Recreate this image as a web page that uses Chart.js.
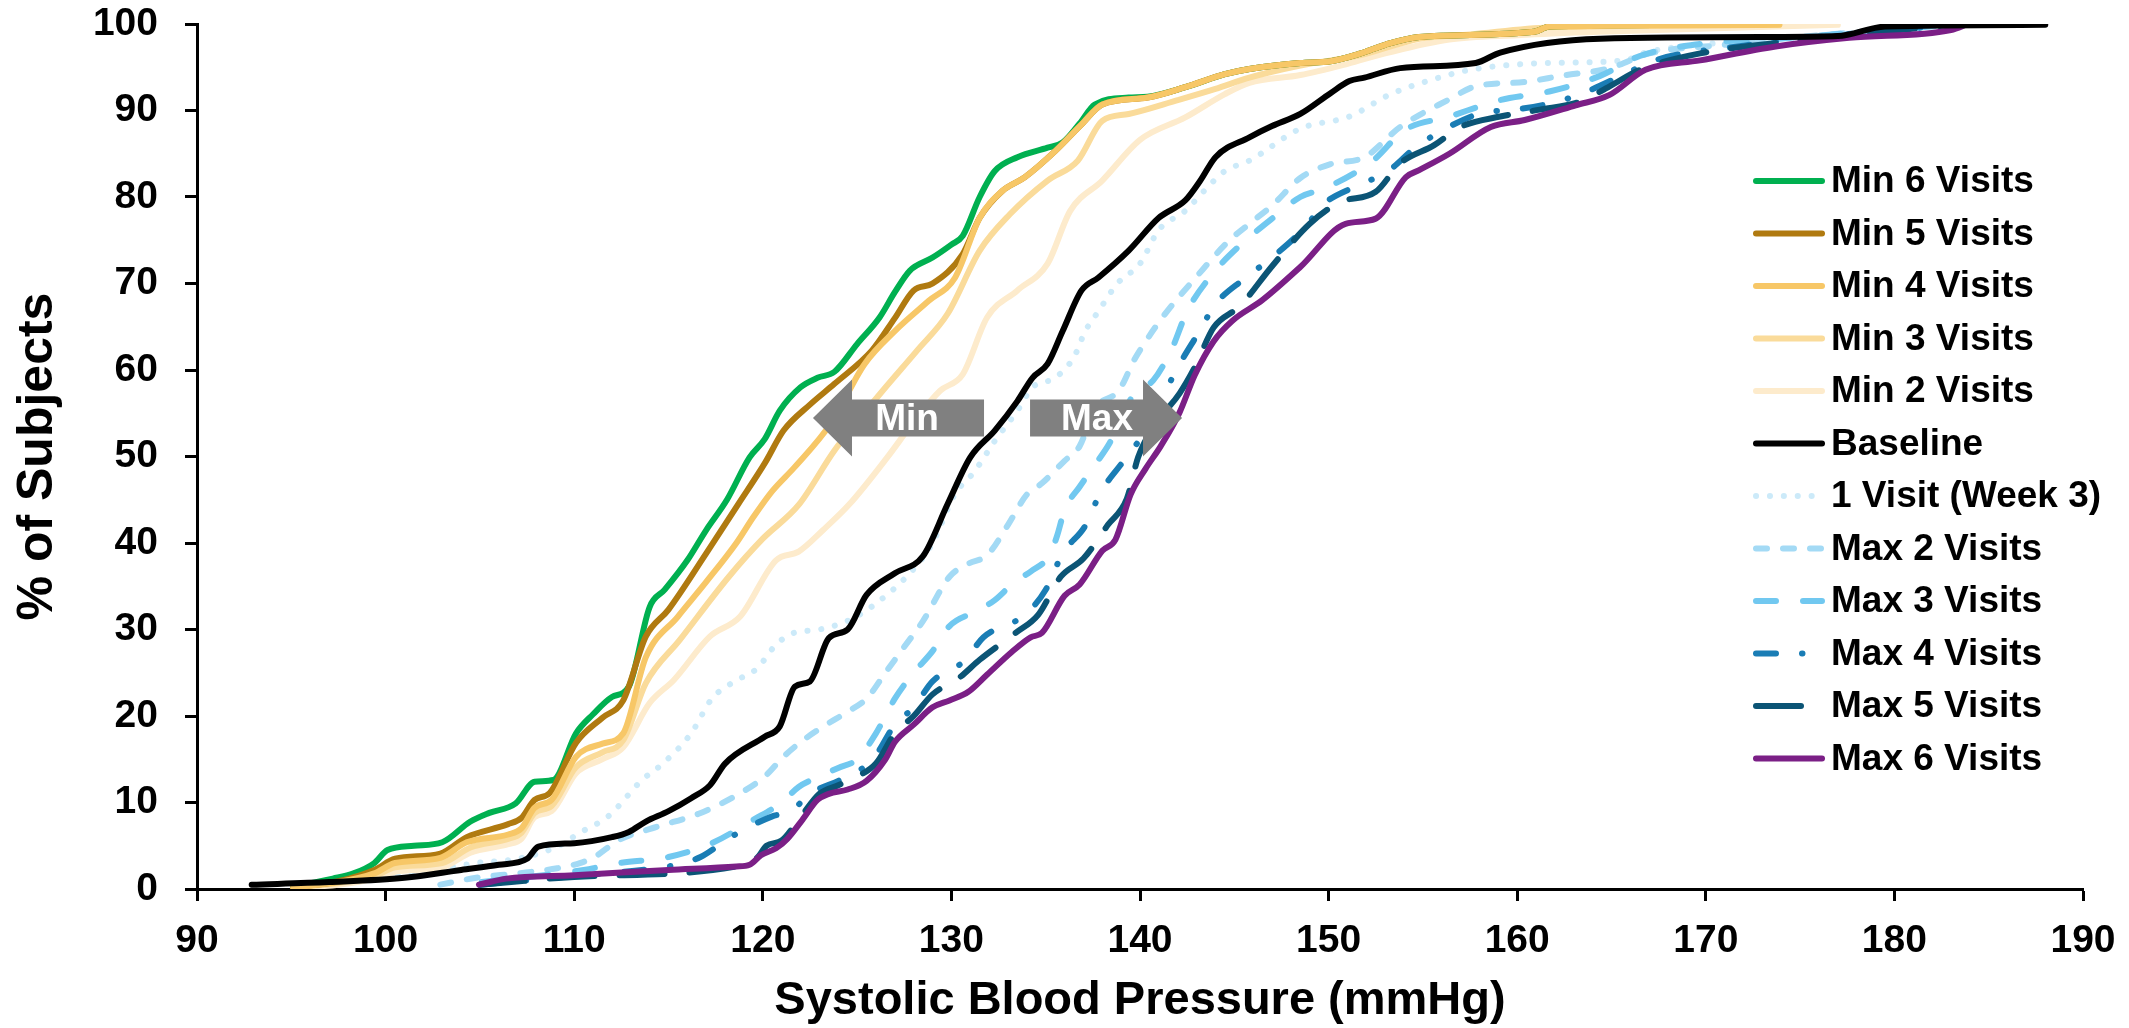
<!DOCTYPE html>
<html>
<head>
<meta charset="utf-8">
<script src="https://cdn.jsdelivr.net/npm/chart.js@4.4.1/dist/chart.umd.min.js"></script>
<style>
  html, body { margin: 0; padding: 0; background: #fff; }
</style>
</head>
<body>
<canvas id="mainCanvas" width="2129" height="1028"></canvas>
<script>
// x = systolic BP (mmHg), y = cumulative % of subjects
var min6 = [[95.1,0.3],[97.2,1.2],[98.3,1.8],[99.4,3.0],[100.1,4.5],[101.5,5.0],[103.0,5.4],[104.5,7.8],[105.5,8.8],[106.9,9.9],[107.9,12.4],[108.9,12.6],[110.1,18.0],[111.0,20.2],[112.0,22.2],[112.9,23.4],[114.0,32.6],[114.8,34.6],[116.0,38.0],[117.0,41.5],[118.1,45.0],[119.3,49.9],[120.1,52.0],[120.9,55.3],[122.0,58.0],[122.9,59.1],[123.8,59.8],[125.0,63.0],[126.2,66.1],[127.0,69.0],[127.8,71.5],[129.0,73.0],[130.0,74.5],[130.6,75.5],[131.5,80.0],[132.3,83.0],[133.5,84.6],[135.1,85.7],[135.9,86.3],[136.8,88.5],[137.6,90.7],[139.4,91.5],[140.4,91.6],[142.4,92.7],[144.5,94.2],[145.8,94.8],[148.5,95.5],[150.1,95.7],[151.7,96.6],[153.0,97.6],[154.8,98.5],[160.9,99.1],[161.7,99.7],[168.0,99.9]];
var min5 = [[95.1,0.2],[97.5,0.9],[99.4,2.2],[100.5,3.5],[102.9,4.1],[104.3,6.0],[106.5,7.5],[107.2,8.2],[107.9,10.3],[108.7,11.1],[110.1,16.9],[111.5,19.8],[112.6,21.8],[113.8,29.2],[115.0,32.3],[117.0,38.8],[118.7,44.5],[120.1,49.2],[121.1,53.0],[122.5,56.0],[123.8,58.4],[125.8,62.3],[127.0,66.0],[128.0,69.2],[129.0,70.0],[130.6,73.4],[131.5,77.6],[132.7,80.7],[133.9,82.3],[135.5,85.3],[136.9,88.4],[138.0,90.7],[140.4,91.5],[142.4,92.7],[144.5,94.2],[145.8,94.8],[148.5,95.5],[150.1,95.7],[151.7,96.6],[153.0,97.6],[154.8,98.5],[160.9,99.1],[161.7,99.7],[168.0,99.9]];
var min4 = [[95.1,0.2],[97.5,0.8],[99.4,1.8],[100.5,3.0],[102.9,3.6],[104.3,5.4],[106.5,6.3],[107.2,7.0],[107.9,9.4],[108.8,10.3],[110.1,15.3],[111.5,16.8],[112.6,18.0],[113.8,26.8],[115.5,31.5],[117.0,35.5],[118.6,40.0],[119.5,43.0],[120.5,46.0],[121.7,48.8],[123.6,53.8],[125.4,60.7],[127.0,64.5],[128.8,68.0],[130.2,70.7],[131.5,77.6],[132.7,80.7],[133.9,82.3],[135.5,85.3],[136.9,88.4],[138.0,90.7],[140.4,91.5],[142.4,92.7],[144.5,94.2],[145.8,94.8],[148.5,95.5],[150.1,95.7],[151.7,96.6],[153.0,97.6],[154.8,98.5],[160.9,99.1],[161.7,99.7],[173.9,99.9]];
var min3 = [[95.1,0.2],[97.5,0.7],[99.4,1.5],[100.5,2.5],[103.0,3.0],[104.5,4.8],[106.5,5.8],[107.2,6.5],[107.9,8.8],[108.8,9.6],[110.1,14.1],[111.5,15.8],[112.6,17.2],[113.8,23.8],[115.6,28.8],[118.2,36.1],[120.0,40.5],[121.9,44.4],[123.8,50.7],[126.2,57.2],[128.2,62.3],[129.8,66.5],[131.5,73.8],[133.1,78.0],[135.1,81.9],[136.7,84.2],[138.0,88.8],[139.4,89.6],[142.0,91.2],[144.0,92.5],[145.8,93.8],[148.5,95.2],[151.7,96.4],[154.8,98.3],[157.5,98.8],[161.7,99.6],[173.9,99.9]];
var min2 = [[95.1,0.1],[97.5,0.5],[99.4,1.2],[100.5,2.0],[103.0,2.5],[104.5,4.2],[106.5,5.2],[107.2,5.8],[107.9,8.3],[108.8,9.0],[110.1,13.4],[111.5,15.0],[112.6,16.4],[114.0,21.5],[115.3,24.2],[117.2,29.2],[118.8,31.5],[120.7,38.0],[121.9,39.0],[123.2,41.5],[124.6,44.5],[126.6,49.9],[128.0,54.0],[129.4,57.6],[130.6,59.5],[131.9,66.1],[133.5,69.2],[135.1,72.3],[136.3,78.4],[138.0,81.9],[140.0,86.6],[142.4,89.2],[144.5,91.9],[145.8,93.2],[148.5,94.1],[151.0,95.4],[153.0,96.6],[156.4,98.2],[160.0,98.7],[164.3,99.1],[177.0,99.9]];
var baseline = [[92.9,0.5],[97.0,0.8],[101.0,1.3],[104.0,2.2],[106.0,2.8],[107.5,3.5],[108.1,4.9],[110.0,5.3],[112.0,6.0],[112.9,6.6],[113.8,7.8],[115.0,9.0],[116.2,10.5],[117.2,12.0],[118.0,14.5],[120.1,17.6],[120.9,18.8],[121.7,23.4],[122.5,24.0],[123.5,29.0],[124.5,30.0],[125.5,34.0],[127.0,36.5],[128.5,38.5],[129.8,44.5],[131.0,49.9],[132.3,53.0],[133.5,56.4],[134.3,59.1],[135.1,60.7],[135.9,64.5],[136.9,69.2],[137.8,70.7],[139.4,73.8],[141.0,77.6],[142.4,79.6],[143.2,81.9],[144.0,84.6],[145.8,86.9],[147.0,88.2],[148.5,89.6],[150.1,92.0],[151.1,93.4],[151.9,93.8],[153.8,94.9],[157.8,95.5],[159.1,96.7],[164.4,98.3],[173.9,98.5],[177.0,98.6],[179.5,99.7],[188.0,99.9]];
var visit1 = [[97.0,0.5],[99.1,1.0],[102.1,2.0],[104.8,3.0],[107.0,3.5],[109.1,4.9],[110.3,6.5],[111.8,8.4],[113.6,12.6],[114.7,14.5],[116.2,18.0],[117.3,22.0],[118.5,24.0],[119.7,25.5],[120.6,28.0],[121.5,29.5],[123.0,30.0],[124.5,31.0],[126.0,33.0],[128.0,37.0],[129.0,40.0],[130.2,45.7],[131.2,48.2],[132.3,51.8],[133.5,55.3],[134.3,58.0],[135.5,59.1],[136.5,61.5],[137.1,64.5],[137.8,66.8],[138.8,70.0],[140.0,72.3],[141.0,76.2],[142.4,78.4],[143.4,80.7],[144.5,83.0],[145.8,84.2],[148.5,87.9],[151.1,89.3],[153.3,91.9],[155.4,93.5],[157.5,94.7],[161.7,95.5],[165.7,95.8],[166.8,96.7],[169.7,97.6],[175.0,98.5],[183.0,99.9]];
var max2 = [[102.9,0.5],[104.8,1.3],[107.0,1.8],[109.1,2.4],[110.3,3.0],[111.0,3.6],[112.4,5.7],[114.4,7.2],[116.6,8.7],[118.5,10.7],[120.1,13.0],[121.1,15.3],[121.9,16.8],[123.0,18.5],[124.5,20.5],[125.5,22.0],[126.5,25.0],[127.5,28.0],[128.5,31.0],[129.9,36.1],[130.9,37.6],[131.9,38.6],[133.0,42.1],[134.0,45.6],[134.8,46.9],[136.0,49.5],[136.8,51.2],[137.6,55.5],[138.9,57.7],[139.7,61.2],[140.3,63.3],[141.3,66.4],[143.0,70.8],[144.7,74.9],[145.8,76.9],[147.0,79.0],[148.5,82.2],[150.1,83.8],[151.9,84.6],[153.8,88.1],[156.4,91.3],[157.8,92.8],[160.4,93.3],[162.3,94.0],[164.9,94.9],[167.0,96.6],[171.0,97.6],[175.0,98.5],[183.0,99.9]];
var max3 = [[105.1,0.8],[108.0,1.5],[110.5,2.2],[112.4,3.0],[115.0,3.7],[117.3,5.3],[119.5,8.0],[121.0,10.0],[121.9,11.8],[123.0,13.0],[124.0,14.0],[125.0,15.0],[126.0,18.0],[127.0,22.0],[128.0,25.0],[129.0,27.5],[129.9,30.4],[131.3,32.1],[132.3,33.4],[133.4,35.6],[134.2,36.7],[135.2,38.6],[135.6,40.8],[136.0,43.8],[136.8,46.5],[137.6,49.0],[138.4,51.6],[139.7,57.3],[140.7,58.8],[141.7,62.5],[142.5,66.8],[144.0,71.5],[145.2,74.2],[147.0,77.5],[148.5,80.0],[149.8,81.0],[152.4,84.3],[154.0,87.7],[156.4,89.3],[159.1,91.2],[161.7,92.2],[164.4,94.0],[166.5,96.3],[169.7,97.7],[175.0,98.5],[183.0,99.9]];
var max4 = [[105.0,0.5],[110.0,1.5],[114.0,2.3],[115.4,2.8],[116.7,3.7],[118.3,6.0],[120.5,8.4],[121.5,9.0],[122.5,11.0],[124.0,12.5],[125.0,13.5],[126.0,15.5],[127.0,19.0],[128.0,21.0],[129.0,24.0],[130.7,26.4],[131.7,29.1],[133.9,31.7],[135.0,34.6],[135.9,38.8],[137.1,42.0],[137.9,45.8],[139.1,49.4],[140.3,53.0],[141.3,57.3],[142.0,60.3],[143.1,64.3],[144.0,67.6],[145.5,70.5],[147.0,73.0],[148.8,76.6],[149.7,79.1],[151.4,81.2],[153.1,82.9],[154.6,85.7],[156.2,87.9],[158.1,89.7],[159.9,90.1],[162.1,91.0],[163.7,92.2],[165.7,94.2],[167.3,95.8],[172.0,97.5],[176.0,98.5],[183.0,99.9]];
var max5 = [[105.0,0.5],[110.0,1.4],[118.6,2.6],[119.7,3.6],[120.2,5.0],[121.0,5.6],[122.0,8.3],[123.0,11.0],[124.0,12.0],[125.0,13.0],[126.0,14.5],[127.0,18.0],[128.0,20.0],[129.0,22.5],[130.4,24.4],[131.5,26.5],[133.4,29.6],[134.6,31.7],[135.8,36.1],[137.0,38.2],[138.3,42.1],[139.3,45.1],[139.9,49.9],[140.7,53.4],[142.1,57.3],[142.9,60.3],[143.9,64.9],[145.3,67.4],[147.0,72.0],[149.0,76.9],[150.6,79.4],[152.5,80.6],[153.8,83.9],[155.6,86.0],[157.0,88.1],[159.1,89.3],[161.2,90.1],[163.3,91.0],[164.9,92.8],[166.5,94.7],[169.7,96.6],[175.0,98.1],[183.0,99.9]];
var max6 = [[104.95,0.5],[106.4,1.2],[110.0,1.6],[115.0,2.2],[118.6,2.6],[119.3,2.8],[119.9,3.9],[120.7,4.7],[121.3,5.8],[122.1,8.0],[122.9,10.3],[123.5,11.0],[124.5,11.5],[125.5,12.5],[126.5,15.0],[127.0,17.0],[128.0,19.0],[129.0,21.0],[129.9,21.8],[130.9,22.8],[131.9,24.8],[133.2,27.4],[134.2,29.1],[134.8,29.6],[136.0,33.9],[136.8,35.2],[138.0,39.1],[138.7,40.4],[139.5,45.6],[140.3,48.6],[141.1,51.2],[142.1,55.1],[142.9,59.4],[143.9,63.3],[144.9,65.7],[146.5,68.1],[148.5,71.9],[150.9,76.9],[152.5,77.5],[154.1,82.3],[154.8,83.1],[156.4,85.0],[158.6,88.1],[160.4,88.9],[163.1,90.6],[164.9,91.8],[166.8,94.7],[169.7,95.8],[173.7,97.4],[177.6,98.4],[183.0,99.3],[183.9,100.0]];

var xTicks = [90, 100, 110, 120, 130, 140, 150, 160, 170, 180, 190];
var yTicks = [0, 10, 20, 30, 40, 50, 60, 70, 80, 90, 100];

var FONT = "'Liberation Sans', Arial, sans-serif";

function pts(arr) { return arr.map(function (p) { return { x: p[0], y: p[1] }; }); }

function series(label, arr, color, dash, order) {
    return {
        label: label,
        data: pts(arr),
        borderColor: color,
        backgroundColor: color,
        borderDash: dash,
        order: order
    };
}

var datasets = [
    series('Min 6 Visits', min6, '#00B050', [], 3),
    series('Min 5 Visits', min5, '#B07A10', [], 2),
    series('Min 4 Visits', min4, '#F7C767', [], 1),
    series('Min 3 Visits', min3, '#FADB9A', [], 4),
    series('Min 2 Visits', min2, '#FDEBCC', [], 5),
    series('Baseline', baseline, '#000000', [], 0),
    series('1 Visit (Week 3)', visit1, '#CCEAF9', [0.1, 13.8], 11),
    series('Max 2 Visits', max2, '#A3DAF5', [11, 16], 10),
    series('Max 3 Visits', max3, '#71C8F0', [20, 27], 9),
    series('Max 4 Visits', max4, '#1A7DB5', [20, 26, 0.5, 26], 8),
    series('Max 5 Visits', max5, '#0B5475', [45, 25], 7),
    series('Max 6 Visits', max6, '#7B1F86', [], 6)
];

// Min / Max arrows, in data units
var arrowY = 54.45, headHalf = 4.45, shaftHalf = 2.14;
var arrows = [
    { text: 'Min', tip: 122.66, base: 124.73, tail: 131.73, textX: 127.65 },
    { text: 'Max', tip: 142.23, base: 140.16, tail: 134.17, textX: 137.72 }
];

var arrowPlugin = {
    id: 'arrows',
    afterDatasetsDraw: function (chart) {
        var ctx = chart.ctx, xs = chart.scales.x, ys = chart.scales.y;
        ctx.save();
        arrows.forEach(function (a) {
            var tip = xs.getPixelForValue(a.tip), base = xs.getPixelForValue(a.base), tail = xs.getPixelForValue(a.tail);
            var yc = ys.getPixelForValue(arrowY);
            var ht = ys.getPixelForValue(arrowY + headHalf), hb = ys.getPixelForValue(arrowY - headHalf);
            var st = ys.getPixelForValue(arrowY + shaftHalf), sb = ys.getPixelForValue(arrowY - shaftHalf);
            ctx.beginPath();
            ctx.moveTo(tip, yc);
            ctx.lineTo(base, ht);
            ctx.lineTo(base, st);
            ctx.lineTo(tail, st);
            ctx.lineTo(tail, sb);
            ctx.lineTo(base, sb);
            ctx.lineTo(base, hb);
            ctx.closePath();
            ctx.fillStyle = '#808080';
            ctx.fill();
            ctx.fillStyle = '#ffffff';
            ctx.font = 'bold 37px ' + FONT;
            ctx.textAlign = 'center';
            ctx.textBaseline = 'middle';
            ctx.fillText(a.text, xs.getPixelForValue(a.textX), yc + 2);
        });
        ctx.restore();
    }
};

var legendPlugin = {
    id: 'insideLegend',
    afterDraw: function (chart) {
        var ctx = chart.ctx, area = chart.chartArea;
        var x0 = area.right - 330, y0 = area.top + 157;
        ctx.save();
        ctx.font = 'bold 37px ' + FONT;
        ctx.textBaseline = 'middle';
        ctx.textAlign = 'left';
        chart.data.datasets.forEach(function (ds, i) {
            var y = y0 + i * 52.5;
            ctx.beginPath();
            ctx.setLineDash(ds.borderDash || []);
            ctx.lineCap = 'round';
            ctx.lineWidth = 6;
            ctx.strokeStyle = ds.borderColor;
            ctx.moveTo(x0 + 3, y);
            ctx.lineTo(x0 + 69, y);
            ctx.stroke();
            ctx.setLineDash([]);
            ctx.fillStyle = '#000';
            ctx.fillText(ds.label, x0 + 78, y + 1);
        });
        ctx.restore();
    }
};

var tickFont = { family: FONT, size: 39, weight: 'bold' };
var xTitleFont = { family: FONT, size: 47, weight: 'bold', lineHeight: 1 };
var yTitleFont = { family: FONT, size: 50, weight: 'bold', lineHeight: 1 };

var ChartObj = new Chart(document.getElementById('mainCanvas'), {
    type: 'line',
    data: { datasets: datasets },
    options: {
        responsive: false,
        animation: false,
        layout: { padding: { top: 24, right: 46, left: 0, bottom: 0 } },
        elements: {
            point: { radius: 0, hoverRadius: 0 },
            line: { borderWidth: 6, tension: 0.4, cubicInterpolationMode: 'monotone', borderCapStyle: 'round', borderJoinStyle: 'round', fill: false }
        },
        plugins: { legend: { display: false }, tooltip: { enabled: false } },
        scales: {
            x: {
                type: 'linear',
                min: xTicks[0],
                max: xTicks[xTicks.length - 1],
                afterBuildTicks: function (s) { s.ticks = xTicks.map(function (v) { return { value: v }; }); },
                ticks: { font: tickFont, color: '#000', padding: 17, maxRotation: 0 },
                grid: { drawOnChartArea: false, tickLength: 12, tickWidth: 3, tickColor: '#000' },
                border: { color: '#000', width: 3 },
                title: { display: true, text: 'Systolic Blood Pressure (mmHg)', font: xTitleFont, color: '#000', padding: { top: 0, bottom: 3 } },
                afterFit: function (s) { s.height = 139; s.paddingLeft = 0; s.paddingRight = 0; }
            },
            y: {
                type: 'linear',
                min: yTicks[0],
                max: yTicks[yTicks.length - 1],
                afterBuildTicks: function (s) { s.ticks = yTicks.map(function (v) { return { value: v }; }); },
                ticks: { font: tickFont, color: '#000', padding: 27 },
                grid: { drawOnChartArea: false, tickLength: 12, tickWidth: 3, tickColor: '#000' },
                border: { color: '#000', width: 3 },
                title: { display: true, text: '% of Subjects', font: yTitleFont, color: '#000', padding: { top: 13, bottom: 0 } },
                afterFit: function (s) { s.width = 197; s.paddingTop = 0; s.paddingBottom = 0; }
            }
        }
    },
    plugins: [arrowPlugin, legendPlugin]
});
</script>
</body>
</html>
